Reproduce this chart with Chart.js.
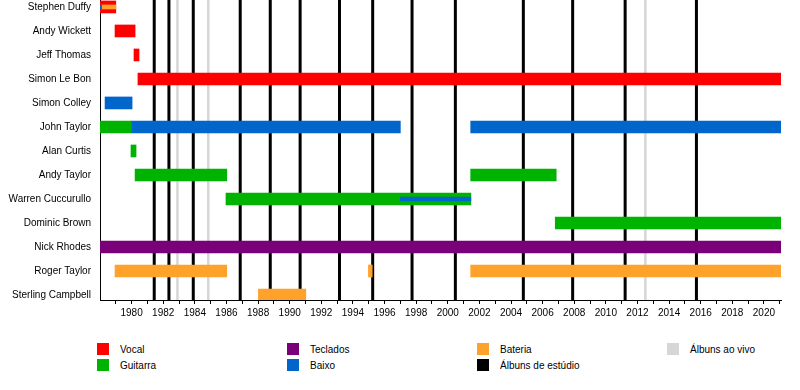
<!DOCTYPE html>
<html>
<head>
<meta charset="utf-8">
<script src="https://cdn.jsdelivr.net/npm/chart.js@4/dist/chart.umd.min.js"></script>
<style>
  html, body { margin: 0; padding: 0; background: #fff; }
  #wrap { position: relative; width: 800px; height: 390px; font-family: "Liberation Sans", Arial, sans-serif; }
  #c { position: absolute; left: 0; top: 0; }
  .lg { position: absolute; font-size: 10px; color: #000; line-height: 12px; }
  .sw { position: absolute; width: 12px; height: 12px; }
</style>
</head>
<body>
<div id="wrap">
  <canvas id="c" width="800" height="330"></canvas>
  <div id="legend"></div>
</div>
<script>
// ---- Data ----
const members = ["Stephen Duffy", "Andy Wickett", "Jeff Thomas", "Simon Le Bon", "Simon Colley",
  "John Taylor", "Alan Curtis", "Andy Taylor", "Warren Cuccurullo", "Dominic Brown",
  "Nick Rhodes", "Roger Taylor", "Sterling Campbell"];

const timelineStart = 1978.0;
const timelineEnd = 2021.08;

// [row, start, end]
const vocal = [[0, 1978.0, 1979.0], [1, 1978.95, 1980.22], [2, 1980.15, 1980.47], [3, 1980.4, 2021.08]];
const guitar = [[5, 1978.0, 1979.98], [6, 1979.96, 1980.28], [7, 1980.22, 1986.02], [7, 2001.45, 2006.86],
  [8, 1985.97, 2001.46], [9, 2006.8, 2021.08]];
const bass = [[4, 1978.32, 1980.03], [5, 1979.98, 1997.0], [5, 2001.45, 2021.08]];
const keys = [[10, 1978.0, 2021.08]];
const drums = [[11, 1978.95, 1986.02], [11, 1994.98, 1995.22], [11, 2001.45, 2021.08], [12, 1988.02, 1991.02]];
// secondary roles (thin stripes)
const bassStripe = [[0, 1978.0, 1978.1], [8, 1997.0, 2001.46]];
const drumsStripe = [[0, 1978.1, 1979.0]];

const studioAlbums = [1981.43, 1982.36, 1983.9, 1986.87, 1988.77, 1990.66, 1993.15, 1995.25,
  1997.74, 2000.48, 2004.78, 2007.9, 2011.22, 2015.73];
const liveAlbums = [1982.9, 1984.85, 2012.5];

const legendItems = [
  ["Vocal", "#ff0000"], ["Guitarra", "#00b300"], ["Teclados", "#7a007a"], ["Baixo", "#0066cc"],
  ["Bateria", "#ffa22c"], ["Álbuns de estúdio", "#000000"], ["Álbuns ao vivo", "#d6d6d6"]
];

// ---- Build ----
const colors = { vocal: "#ff0000", guitar: "#00b300", bass: "#0066cc", keys: "#7a007a", drums: "#ffa22c", studio: "#000000", live: "#d6d6d6" };
const yMin = -0.29, yMax = 12.21;

function barDs(rows, color, thick, order) {
  return {
    type: "bar",
    data: rows.map(r => ({ y: r[0], x: [r[1], r[2]] })),
    backgroundColor: color, borderWidth: 0, barThickness: thick, grouped: false, order: order
  };
}
function lineDs(yr, color, w) {
  return {
    type: "line",
    data: [{ x: yr, y: yMin }, { x: yr, y: yMax }],
    borderColor: color, borderWidth: w, pointRadius: 0, fill: false, order: 2, clip: false
  };
}

const datasets = [
  barDs(vocal, colors.vocal, 12, 0),
  barDs(guitar, colors.guitar, 12, 0),
  barDs(bass, colors.bass, 12, 0),
  barDs(keys, colors.keys, 12, 0),
  barDs(drums, colors.drums, 12, 0),
  barDs(bassStripe, colors.bass, 4, -1),
  barDs(drumsStripe, colors.drums, 4, -1),
  ...liveAlbums.map(y => lineDs(y, colors.live, 2.5)),
  ...studioAlbums.map(y => lineDs(y, colors.studio, 3))
];

new Chart(document.getElementById("c"), {
  type: "bar",
  data: { datasets },
  options: {
    indexAxis: "y",
    responsive: false,
    animation: false,
    events: [],
    layout: { padding: { left: 0, right: 19, top: 0, bottom: 0 } },
    plugins: { legend: { display: false }, tooltip: { enabled: false } },
    scales: {
      x: {
        type: "linear",
        offset: false,
        min: timelineStart, max: timelineEnd,
        afterFit: s => { s.height = 30; s.paddingLeft = 0; s.paddingRight = 0; },
        afterBuildTicks: s => {
          const t = [];
          for (let y = 1979; y <= 2021; y++) t.push({ value: y });
          s.ticks = t;
        },
        ticks: {
          autoSkip: false, maxRotation: 0, padding: 3, color: "#000",
          font: { family: "Liberation Sans", size: 10 },
          callback: v => (v % 2 === 0 ? String(v) : "")
        },
        grid: { drawOnChartArea: false, drawTicks: true, tickLength: 4, color: "#000", lineWidth: 1, offset: false },
        border: { display: true, color: "#000", width: 1 }
      },
      y: {
        type: "linear",
        offset: false,
        reverse: true,
        min: yMin, max: yMax,
        afterFit: s => { s.width = 100; s.paddingTop = 0; s.paddingBottom = 0; },
        afterBuildTicks: s => { s.ticks = members.map((_, i) => ({ value: i })); },
        ticks: {
          autoSkip: false, padding: 9, color: "#000",
          font: { family: "Liberation Sans", size: 10 },
          callback: v => members[v]
        },
        grid: { display: false, drawTicks: false, tickLength: 0, offset: false },
        border: { display: true, color: "#000", width: 1 }
      }
    }
  }
});

// ---- HTML legend ----
const lg = document.getElementById("legend");
const pos = [[97, 343], [97, 359], [287, 343], [287, 359], [477, 343], [477, 359], [667, 343]];
legendItems.forEach((it, i) => {
  const [x, y] = pos[i];
  const sw = document.createElement("div");
  sw.className = "sw"; sw.style.left = x + "px"; sw.style.top = y + "px"; sw.style.background = it[1];
  const tx = document.createElement("div");
  tx.className = "lg"; tx.style.left = (x + 23) + "px"; tx.style.top = (y + 1) + "px"; tx.textContent = it[0];
  lg.appendChild(sw); lg.appendChild(tx);
});
</script>
</body>
</html>
